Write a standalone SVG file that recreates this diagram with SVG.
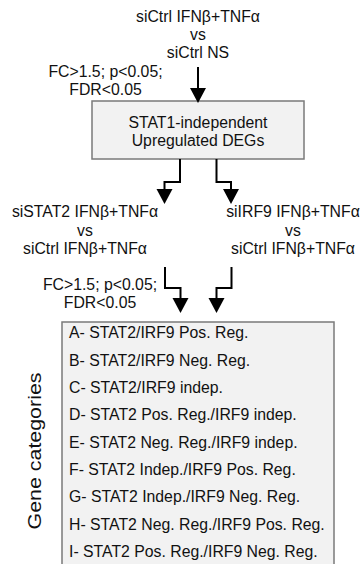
<svg xmlns="http://www.w3.org/2000/svg" width="361" height="564" viewBox="0 0 361 564">
  <style>
    text { font-family: "Liberation Sans", Arial, sans-serif; font-size: 15.8px; fill: #111; }
    .c { text-anchor: middle; }
    .box { fill: #f2f2f2; stroke: #7a7a7a; stroke-width: 1.5; }
    .wire { fill: none; stroke: #000; stroke-width: 2; }
    .head { fill: #000; }
  </style>
  <defs>
    <!-- downward arrowhead, tip at the origin -->
    <path id="head" class="head" d="M-8 -15 L8 -15 L0 0 Z"/>
  </defs>
  <rect width="361" height="564" fill="#fff"/>

  <g id="comparison-ctrl">
    <text class="c" x="198" y="22">siCtrl IFNβ+TNFα</text>
    <text class="c" x="198" y="40">vs</text>
    <text class="c" x="198" y="58">siCtrl NS</text>
  </g>

  <g id="threshold-1">
    <text class="c" x="105.5" y="77">FC&gt;1.5; p&lt;0.05;</text>
    <text class="c" x="105.5" y="95">FDR&lt;0.05</text>
  </g>

  <g id="stat1-independent">
    <rect class="box" x="92" y="101" width="212" height="58"/>
    <text class="c" x="198" y="127.5">STAT1-independent</text>
    <text class="c" x="198" y="145.5">Upregulated DEGs</text>
  </g>

  <g id="comparison-stat2">
    <text class="c" x="85" y="217">siSTAT2 IFNβ+TNFα</text>
    <text class="c" x="85" y="235.5">vs</text>
    <text class="c" x="85" y="254">siCtrl IFNβ+TNFα</text>
  </g>

  <g id="comparison-irf9">
    <text class="c" x="293" y="217">siIRF9 IFNβ+TNFα</text>
    <text class="c" x="293" y="235.5">vs</text>
    <text class="c" x="293" y="254">siCtrl IFNβ+TNFα</text>
  </g>

  <g id="threshold-2">
    <text class="c" x="100" y="290">FC&gt;1.5; p&lt;0.05;</text>
    <text class="c" x="100" y="308">FDR&lt;0.05</text>
  </g>

  <g id="gene-categories">
    <rect class="box" x="62" y="322" width="272" height="250"/>
    <text x="69" y="338.3">A- STAT2/IRF9 Pos. Reg.</text>
    <text x="69" y="365.6">B- STAT2/IRF9 Neg. Reg.</text>
    <text x="69" y="393">C- STAT2/IRF9 indep.</text>
    <text x="69" y="420.3">D- STAT2 Pos. Reg./IRF9 indep.</text>
    <text x="69" y="447.6">E- STAT2 Neg. Reg./IRF9 indep.</text>
    <text x="69" y="475">F- STAT2 Indep./IRF9 Pos. Reg.</text>
    <text x="69" y="502.2">G- STAT2 Indep./IRF9 Neg. Reg.</text>
    <text x="69" y="529.6">H- STAT2 Neg. Reg./IRF9 Pos. Reg.</text>
    <text x="69" y="556.8">I- STAT2 Pos. Reg./IRF9 Neg. Reg.</text>
    <text class="c" transform="translate(41 451) rotate(-90)" x="0" y="0" style="font-size:17.5px" textLength="157" lengthAdjust="spacingAndGlyphs">Gene categories</text>
  </g>

  <g id="connectors">
    <path class="wire" d="M198 67 V90"/>
    <use href="#head" x="198" y="103"/>
    <path class="wire" d="M180 159 V182 H164.5 V191"/>
    <use href="#head" x="164.5" y="204"/>
    <path class="wire" d="M216.5 159 V182 H231 V191"/>
    <use href="#head" x="231" y="204"/>
    <path class="wire" d="M165 267 V288 H180.5 V300"/>
    <use href="#head" x="180.5" y="313"/>
    <path class="wire" d="M231.5 267 V288 H216.5 V300"/>
    <use href="#head" x="216.5" y="313"/>
  </g>
</svg>
